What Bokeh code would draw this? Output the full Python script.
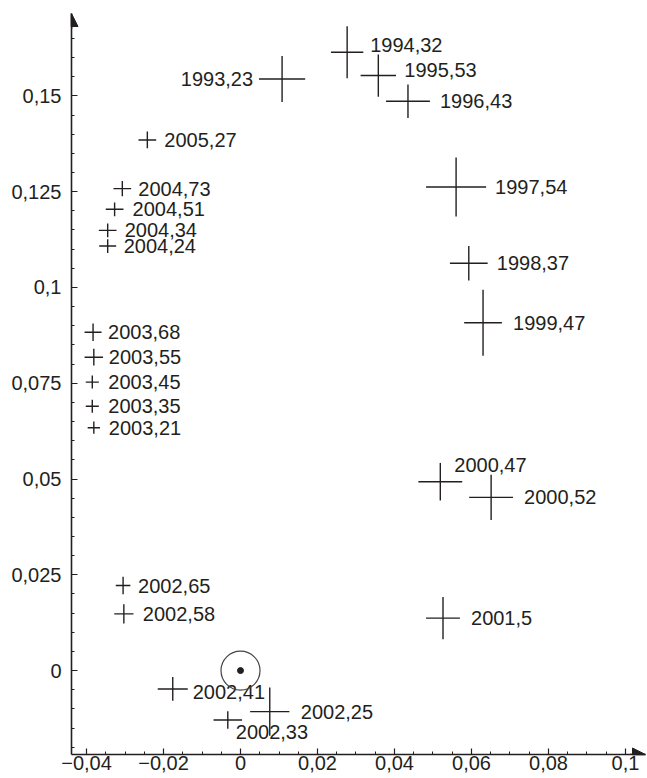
from bokeh.plotting import figure
from bokeh.models import (ColumnDataSource, FixedTicker, CustomJSTickFormatter,
                          Arrow, NormalHead, Range1d)
from bokeh.core.properties import value
from bokeh.embed import file_html
from bokeh.resources import INLINE
import numpy as np

# ---- data ----
labels = ["1993,23", "1994,32", "1995,53", "1996,43", "1997,54", "1998,37",
          "1999,47", "2000,47", "2000,52", "2001,5", "2002,25", "2002,33",
          "2002,41", "2002,58", "2002,65", "2003,21", "2003,35", "2003,45",
          "2003,55", "2003,68", "2004,24", "2004,34", "2004,51", "2004,73",
          "2005,27"]
x_vals = [0.0108, 0.0277, 0.0358, 0.0435, 0.0560, 0.0593,
          0.0630, 0.0519, 0.0651, 0.0526, 0.0076, -0.0033,
          -0.0176, -0.0303, -0.0305, -0.0381, -0.0385, -0.0385,
          -0.0381, -0.0383, -0.0345, -0.0345, -0.0327, -0.0307,
          -0.0242]
y_vals = [0.1544, 0.1614, 0.1553, 0.1486, 0.1262, 0.1063,
          0.0908, 0.0493, 0.0452, 0.0137, -0.0107, -0.0129,
          -0.0048, 0.0148, 0.0222, 0.0634, 0.0690, 0.0753,
          0.0818, 0.0883, 0.1108, 0.1149, 0.1204, 0.1258,
          0.1385]
x_err = [0.0060, 0.0042, 0.0046, 0.0057, 0.0078, 0.0049,
         0.0049, 0.0057, 0.0057, 0.0044, 0.0051, 0.0037,
         0.0039, 0.0025, 0.0019, 0.0016, 0.0017, 0.0017,
         0.0024, 0.0022, 0.0022, 0.0023, 0.0023, 0.0023,
         0.0023]
y_err = [0.0060, 0.0068, 0.0055, 0.0044, 0.0077, 0.0045,
         0.0086, 0.0049, 0.0059, 0.0055, 0.0063, 0.0023,
         0.0031, 0.0025, 0.0023, 0.0016, 0.0017, 0.0017,
         0.0022, 0.0023, 0.0018, 0.0018, 0.0018, 0.0020,
         0.0022]

ref_x = [0.0]
ref_y = [0.0]

x_ticks = [-0.04, -0.02, 0.0, 0.02, 0.04, 0.06, 0.08, 0.1]
x_tick_labels = ["\u22120,04", "\u22120,02", "0", "0,02", "0,04", "0,06", "0,08", "0,1"]
y_ticks = [0.0, 0.025, 0.05, 0.075, 0.1, 0.125, 0.15]
y_tick_labels = ["0", "0,025", "0,05", "0,075", "0,1", "0,125", "0,15"]
x_minor = [round(v, 3) for v in np.arange(-0.04, 0.1001, 0.005)]
y_minor = [round(v, 3) for v in np.arange(-0.02, 0.1651, 0.005)]

# ---- label placement (pixels from cross centre; style only) ----
lab_dx = [-29, 23, 26, 32, 39, 28, 30, 14, 33, 28, 31, 8, 20, 19, 15,
          15, 16, 16, 15, 15, 16, 17, 18, 16, 17]
lab_dy = [0, -7, -6, 0, 0, 0, 0, -17, 0, 0, 0, 12, 3, 0, 0,
          0, 0, 0, 0, 0, 0, 0, 0, 0, 0]
lab_align = ["right"] + ["left"] * 24

INK = "#231f20"
FONT = "Liberation Sans"

xv = np.array(x_vals); yv = np.array(y_vals)
ex = np.array(x_err); ey = np.array(y_err)

src = ColumnDataSource(dict(
    x=xv, y=yv,
    hx0=xv - ex, hx1=xv + ex,
    vy0=yv - ey, vy1=yv + ey,
    text=labels, dx=lab_dx, dy=lab_dy, align=lab_align,
))

X0, X1 = -0.0439, 0.1052
Y0, Y1 = -0.0219, 0.1715

p = figure(width=647, height=778, output_backend="svg", toolbar_location=None,
           x_range=Range1d(X0, X1), y_range=Range1d(Y0, Y1),
           min_border_left=71, min_border_right=2, min_border_top=13,
           min_border_bottom=24)
p.outline_line_color = None
p.grid.visible = False
p.background_fill_color = "white"
p.border_fill_color = "white"

# crosses
p.segment(x0="hx0", y0="y", x1="hx1", y1="y", source=src,
          line_color=INK, line_width=1.4)
p.segment(x0="x", y0="vy0", x1="x", y1="vy1", source=src,
          line_color=INK, line_width=1.4)

# labels
p.text(x="x", y="y", text="text", x_offset="dx", y_offset="dy",
       text_align="align", source=src, text_baseline="middle",
       text_font=value(FONT), text_font_size="20px", text_color=INK)

# reference point at origin
p.scatter(x=ref_x, y=ref_y, size=39, marker="circle", fill_color=None,
          line_color="#444444", line_width=1.2)
p.scatter(x=ref_x, y=ref_y, size=6, marker="circle", fill_color=INK,
          line_color=INK)

# axes
fmt_code = """
for (let i = 0; i < tv.length; i++) {
  if (Math.abs(tv[i] - tick) < 1e-9) { return tl[i]; }
}
return "";
"""
p.xaxis.ticker = FixedTicker(ticks=x_ticks, minor_ticks=x_minor)
p.xaxis.formatter = CustomJSTickFormatter(args=dict(tv=x_ticks, tl=x_tick_labels), code=fmt_code)
p.yaxis.ticker = FixedTicker(ticks=y_ticks, minor_ticks=y_minor)
p.yaxis.formatter = CustomJSTickFormatter(args=dict(tv=y_ticks, tl=y_tick_labels), code=fmt_code)

for ax in (p.xaxis, p.yaxis):
    ax.axis_line_color = INK
    ax.axis_line_width = 1.6
    ax.major_tick_line_color = INK
    ax.minor_tick_line_color = INK
    ax.major_tick_line_width = 1.2
    ax.minor_tick_line_width = 1.0
    ax.major_tick_in = 6
    ax.major_tick_out = 0
    ax.minor_tick_in = 3
    ax.minor_tick_out = 0
    ax.major_label_text_font = FONT
    ax.major_label_text_font_size = "20px"
    ax.major_label_text_color = INK
p.xaxis.major_label_standoff = 1
p.yaxis.major_label_standoff = 10

# arrow heads at axis ends
p.add_layout(Arrow(end=NormalHead(size=13, fill_color=INK, line_color=INK),
                   x_start=X0, y_start=Y1 - 0.004, x_end=X0, y_end=Y1,
                   line_color=INK, line_width=1.6))
p.add_layout(Arrow(end=NormalHead(size=13, fill_color=INK, line_color=INK),
                   x_start=X1 - 0.004, y_start=Y0, x_end=X1, y_end=Y0,
                   line_color=INK, line_width=1.6))

open("out.html", "w").write(file_html(p, INLINE))
